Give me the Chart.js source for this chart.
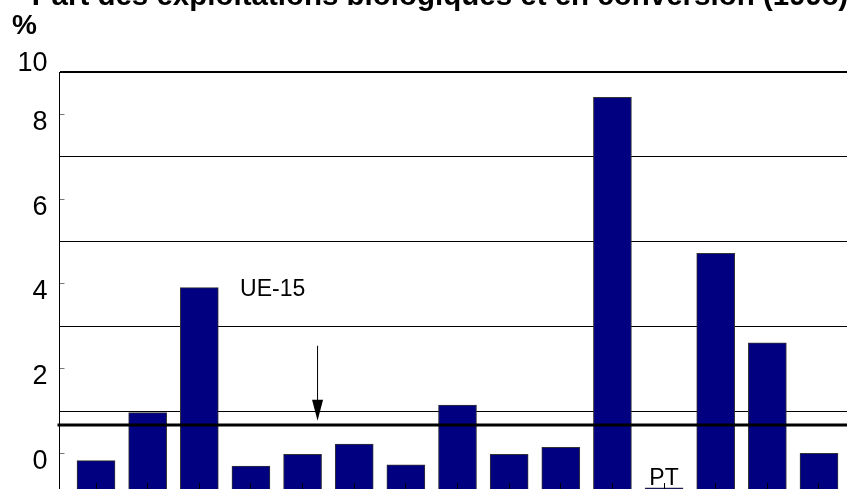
<!DOCTYPE html>
<html lang="fr">
<head>
<meta charset="UTF-8">
<title>Part des exploitations biologiques et en conversion</title>
<script src="https://cdn.jsdelivr.net/npm/chart.js"></script>
<style>
    html, body { margin: 0; padding: 0; overflow: hidden; background: #fff; }
    /* the original picture is a crop: top, right and bottom are cut off */
    #wrap { position: absolute; left: 0; top: -30px; width: 868px; height: 590px; }
</style>
</head>
<body>
<div id="wrap"><canvas id="organicChart"></canvas></div>
<script>
    // data
    const countries = ['BE', 'DK', 'DE', 'EL', 'ES', 'FR', 'IE', 'IT', 'LU', 'NL', 'AT', 'PT', 'FI', 'SE', 'UK'];
    const organicShare = [-0.17, 0.96, 3.91, -0.30, -0.02, 0.22, -0.27, 1.14, -0.02, 0.14, 8.40, -0.81, 4.72, 2.61, 0.00];
    const euAverage = 0.67;

    // axis ticks
    const yTicks = [0, 1, 2, 3, 4, 5, 6, 7, 8, 9];
    const yMin = -1.1, yMax = 9;
    const xMin = -0.707, xMax = 14.949;

    // annotation: "UE-15" label and arrow pointing at the average line
    const euLabelPos = [2.79, 3.87];
    const arrowPos = [4.29, 2.54, 0.77];   // x, from, to

    const FONT = "'Liberation Sans', Arial, sans-serif";
    Chart.defaults.font.family = FONT;
    Chart.defaults.color = '#000';

    const annotations = {
        id: 'annotations',
        afterDatasetsDraw(chart) {
            const {ctx, chartArea, scales: {x, y}} = chart;
            ctx.save();
            ctx.strokeStyle = '#000';
            ctx.fillStyle = '#000';

            // UE-15 average
            const ya = y.getPixelForValue(euAverage);
            ctx.lineWidth = 3;
            ctx.beginPath();
            ctx.moveTo(chartArea.left - 2, ya);
            ctx.lineTo(chartArea.right, ya);
            ctx.stroke();

            ctx.font = '23px ' + FONT;
            ctx.textBaseline = 'middle';
            ctx.textAlign = 'left';
            ctx.fillText('UE-15', x.getPixelForValue(euLabelPos[0]), y.getPixelForValue(euLabelPos[1]));

            const ax = x.getPixelForValue(arrowPos[0]);
            const a0 = y.getPixelForValue(arrowPos[1]);
            const a1 = y.getPixelForValue(arrowPos[2]);
            ctx.lineWidth = 1;
            ctx.beginPath();
            ctx.moveTo(ax, a0);
            ctx.lineTo(ax, a1 - 18);
            ctx.stroke();
            ctx.beginPath();
            ctx.moveTo(ax - 5.5, a1 - 21);
            ctx.lineTo(ax + 5.5, a1 - 21);
            ctx.lineTo(ax, a1);
            ctx.closePath();
            ctx.fill();
            ctx.restore();
        }
    };

    const ctx = document.getElementById('organicChart').getContext('2d');
    new Chart(ctx, {
        type: 'bar',
        data: {
            datasets: [{
                label: 'Part des exploitations biologiques',
                data: organicShare.map((v, i) => ({x: i, y: v})),
                backgroundColor: '#000080',
                borderColor: '#333',
                borderWidth: 1,
                barThickness: 38,
                base: yMin - 1
            }]
        },
        options: {
            responsive: true,
            maintainAspectRatio: false,
            animation: false,
            layout: {padding: {left: 12, right: 0, top: 0, bottom: 60}},
            plugins: {
                legend: {display: false},
                tooltip: {enabled: false},
                title: {
                    display: true,
                    text: 'Part des exploitations biologiques et en conversion (1998)',
                    align: 'center',
                    color: '#000',
                    font: {size: 29.5, weight: 'bold', lineHeight: 1},
                    padding: {top: 12.5, bottom: 0}
                },
                subtitle: {
                    display: true,
                    text: '%',
                    align: 'start',
                    color: '#000',
                    font: {size: 28, weight: 'bold', lineHeight: 1},
                    padding: {top: 0, bottom: 32}
                }
            },
            scales: {
                x: {
                    type: 'linear',
                    min: xMin,
                    max: xMax,
                    offset: false,
                    afterBuildTicks: s => { s.ticks = countries.map((c, i) => ({value: i})); },
                    ticks: {
                        // empty first line keeps the label inside the scale's clip box
                        callback: v => ['', countries[v] ?? ''],
                        font: {size: 23},
                        color: '#000',
                        padding: -46,
                        autoSkip: false,
                        maxRotation: 0
                    },
                    grid: {offset: false, drawOnChartArea: false, drawTicks: true, tickLength: -17, color: '#000', z: 1},
                    border: {display: false}
                },
                y: {
                    min: yMin,
                    max: yMax,
                    afterBuildTicks: s => { s.ticks = yTicks.map(v => ({value: v})); },
                    afterFit: s => { s.width = 47.5; },
                    ticks: {
                        callback: v => v === 9 ? ['10', ''] : (v % 2 === 0 ? String(v) : ''),
                        font: {size: 27},
                        color: '#000',
                        padding: 17,
                        labelOffset: 8,
                        autoSkip: false
                    },
                    grid: {
                        color: c => c.tick && c.tick.value % 2 === 1 ? '#000' : 'rgba(0,0,0,0)',
                        lineWidth: c => c.tick && c.tick.value === 9 ? 2 : 1,
                        tickColor: c => c.tick && c.tick.value % 2 === 0 ? '#777' : 'rgba(0,0,0,0)',
                        tickLength: -5
                    },
                    border: {display: true, color: '#000', width: 1}
                }
            }
        },
        plugins: [annotations]
    });
</script>
</body>
</html>
